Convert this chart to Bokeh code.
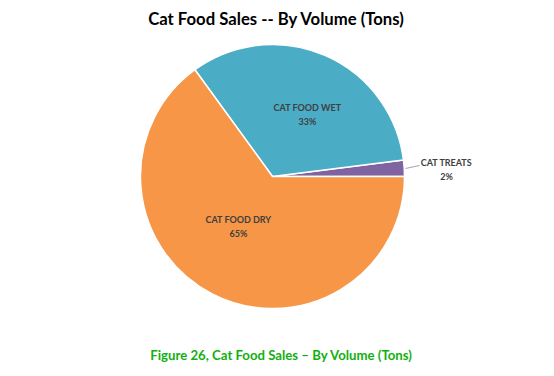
import numpy as np
from bokeh.plotting import figure
from bokeh.models import Range1d, ColumnDataSource
from bokeh.core.properties import value
from bokeh.embed import file_html
from bokeh.resources import INLINE

categories = ["CAT TREATS", "CAT FOOD WET", "CAT FOOD DRY"]
shares = [2, 33, 65]
colors = ["#8064A2", "#4BACC6", "#F79646"]

W, H = 554, 376
cx, cy, r = 272, H - 176, 132

p = figure(width=W, height=H, x_range=Range1d(0, W), y_range=Range1d(0, H),
           output_backend="svg", toolbar_location=None, min_border=0)
p.axis.visible = False
p.grid.visible = False
p.outline_line_color = None
p.background_fill_color = "white"
p.border_fill_color = "white"

vals = np.array(shares, dtype=float)
frac = vals / vals.sum()
ends = np.cumsum(frac) * 2 * np.pi
starts = np.concatenate([[0], ends[:-1]])
src = ColumnDataSource(dict(start=starts, end=ends, color=colors))
p.wedge(x=cx, y=cy, radius=r, start_angle="start", end_angle="end",
        fill_color="color", line_color="white", line_width=1.5, source=src)

font = value("Lato")
lab_col = "#404040"
pct = [f"{int(round(v))}%" for v in frac * 100]

# label positions (pixel coords from top)
pos = [(446, 162), (307, 107), (238, 219)]
for (lx, ly), cat, pc in zip(pos, categories, pct):
    p.text(x=[lx], y=[H - ly], text=[cat], text_font=font, text_font_style="bold",
           text_font_size="9px", text_color=lab_col, text_align="center",
           text_baseline="middle")
    p.text(x=[lx], y=[H - ly - 14], text=[pc], text_font=font, text_font_style="bold",
           text_font_size="9px", text_color=lab_col, text_align="center",
           text_baseline="middle")

# leader line for small slice
p.line(x=[405, 419], y=[H - 168, H - 165], line_color="#A6A6A6", line_width=1)

p.text(x=[276], y=[H - 18], text=["Cat Food Sales -- By Volume (Tons)"], text_font=font,
       text_font_style="bold", text_font_size="16.7px", text_color="#000000",
       text_align="center", text_baseline="middle")
p.text(x=[281], y=[H - 354], text=["Figure 26, Cat Food Sales \u2013 By Volume (Tons)"],
       text_font=font, text_font_style="bold", text_font_size="13.2px",
       text_color="#10B010", text_align="center", text_baseline="middle")

open("out.html", "w").write(file_html(p, INLINE))
